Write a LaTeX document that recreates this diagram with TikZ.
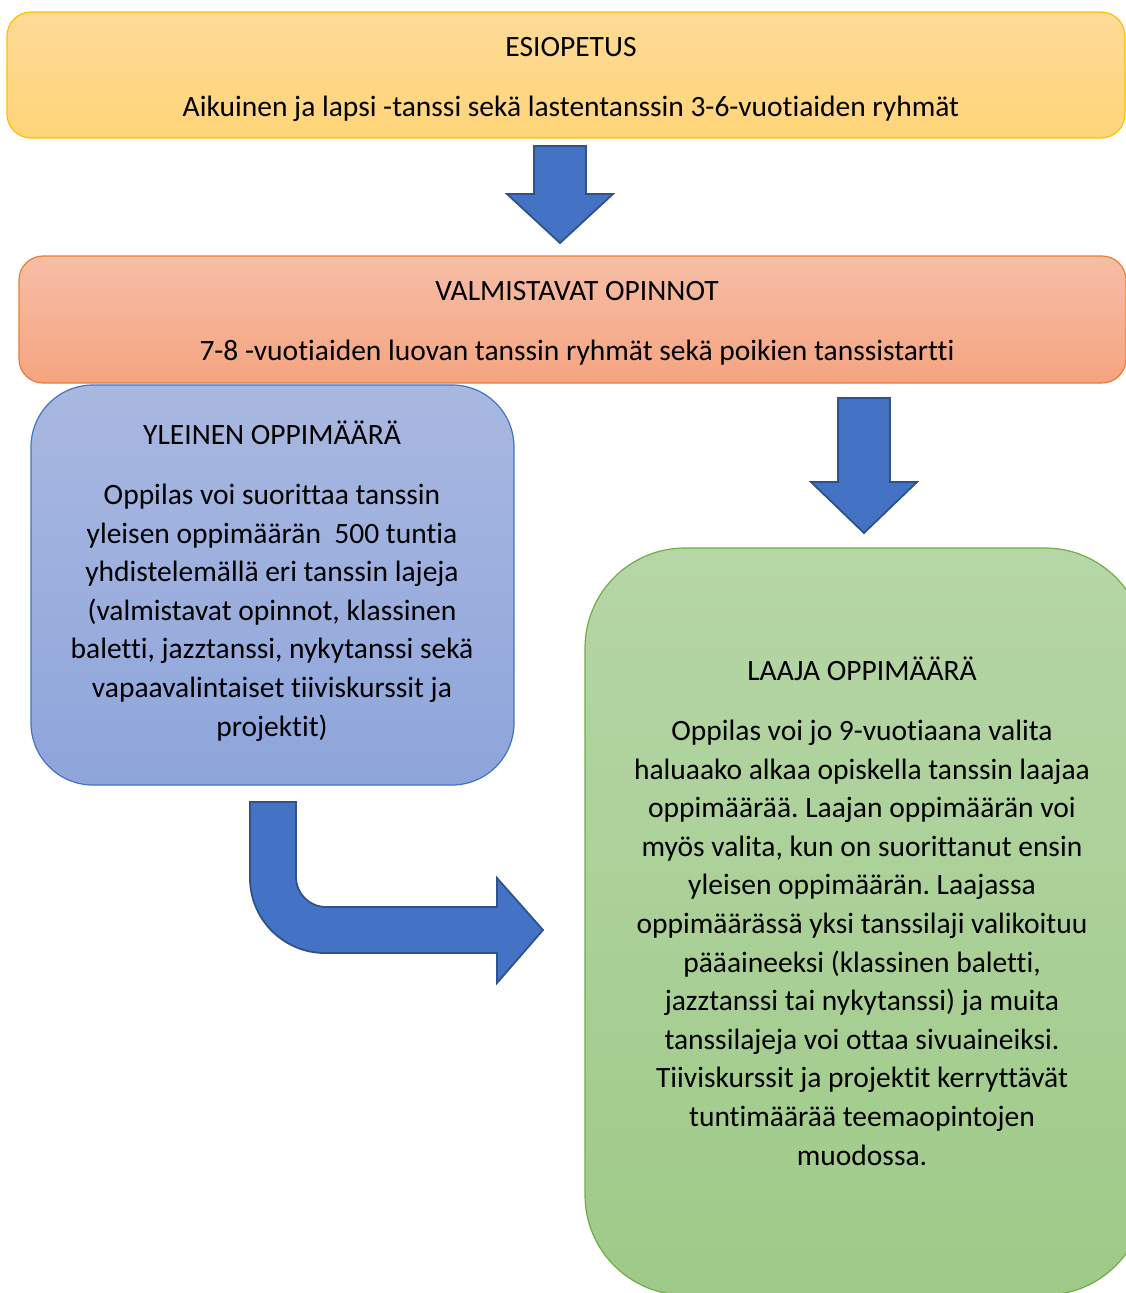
\documentclass[tikz,border=0pt]{standalone}
\usepackage{fontspec}
\setmainfont[Ligatures=CommonOff]{Carlito}
\frenchspacing
\definecolor{yelTop}{RGB}{254,218,152}
\definecolor{yelBot}{RGB}{255,213,120}
\definecolor{yelLine}{RGB}{255,192,0}
\definecolor{orTop}{RGB}{246,190,166}
\definecolor{orBot}{RGB}{245,164,128}
\definecolor{orLine}{RGB}{237,125,49}
\definecolor{blTop}{RGB}{169,184,224}
\definecolor{blBot}{RGB}{142,165,219}
\definecolor{blLine}{RGB}{68,114,196}
\definecolor{grTop}{RGB}{182,214,166}
\definecolor{grBot}{RGB}{158,202,136}
\definecolor{grLine}{RGB}{112,173,71}
\definecolor{arrFill}{RGB}{68,114,196}
\definecolor{arrLine}{RGB}{47,82,143}
\tikzset{
  panel/.style={draw, line width=1.2pt, inner sep=0pt, outer sep=0pt},
  txt/.style={align=center, inner sep=0pt, font=\fontsize{29.5}{38.6}\selectfont\frenchspacing, text=black},
  blockarrow/.style={fill=arrFill, draw=arrLine, line width=1.8pt, line join=miter},
}
\begin{document}
\begin{tikzpicture}[x=1pt,y=-1pt]
\useasboundingbox (0,0) rectangle (1126,1293);
\clip (0,0) rectangle (1126,1293);
% panels
\node[panel, draw=yelLine, top color=yelTop, bottom color=yelBot, rounded corners=24pt,
  minimum width=1118pt, minimum height=126pt] (esi) at (566,75) {};
\node[panel, draw=orLine, top color=orTop, bottom color=orBot, rounded corners=24pt,
  minimum width=1107pt, minimum height=127pt] (val) at (572.5,319.5) {};
\node[panel, draw=blLine, top color=blTop, bottom color=blBot, rounded corners=62pt,
  minimum width=483pt, minimum height=400pt] (yle) at (272.5,585) {};
\node[panel, draw=grLine, top color=grTop, bottom color=grBot, rounded corners=100pt,
  minimum width=560pt, minimum height=747pt] (laa) at (865,921.5) {};
% texts
\node[txt] (esiT) at (571,79) {ESIOPETUS\\[21.4pt]Aikuinen ja lapsi -tanssi sekä lastentanssin 3-6-vuotiaiden ryhmät};
\node[txt] (valT) at (577,323) {VALMISTAVAT OPINNOT\\[21.4pt]7-8 -vuotiaiden luovan tanssin ryhmät sekä poikien tanssistartti};
\node[txt] (yleT) at (272,581) {YLEINEN OPPIMÄÄRÄ\\[21.4pt]Oppilas voi suorittaa tanssin\\yleisen oppimäärän\ \ 500 tuntia\\yhdistelemällä eri tanssin lajeja\\(valmistavat opinnot, klassinen\\baletti, jazztanssi, nykytanssi sekä\\vapaavalintaiset tiiviskurssit ja\\projektit)};
\node[txt] (laaT) at (862,911) {LAAJA OPPIMÄÄRÄ\\[21.4pt]Oppilas voi jo 9-vuotiaana valita\\haluaako alkaa opiskella tanssin laajaa\\oppimäärää. Laajan oppimäärän voi\\myös valita, kun on suorittanut ensin\\yleisen oppimäärän. Laajassa\\oppimäärässä yksi tanssilaji valikoituu\\pääaineeksi (klassinen baletti,\\jazztanssi tai nykytanssi) ja muita\\tanssilajeja voi ottaa sivuaineiksi.\\Tiiviskurssit ja projektit kerryttävät\\tuntimäärää teemaopintojen\\muodossa.};
% block arrows
\draw[blockarrow] (534,146) -- (586,146) -- (586,194) -- (613,194) -- (560,243) -- (507,194) -- (534,194) -- cycle;
\draw[blockarrow] (838,398) -- (890,398) -- (890,482) -- (917,482) -- (864,533) -- (811,482) -- (838,482) -- cycle;
\draw[blockarrow] (250,802) -- (296,802) -- (296,877)
  .. controls (296,893.6) and (309.4,907) .. (326,907)
  -- (497,907) -- (497,878) -- (543,930) -- (497,983) -- (497,953) -- (325,953)
  .. controls (283.6,953) and (250,919.4) .. (250,878) -- cycle;
\end{tikzpicture}
\end{document}
